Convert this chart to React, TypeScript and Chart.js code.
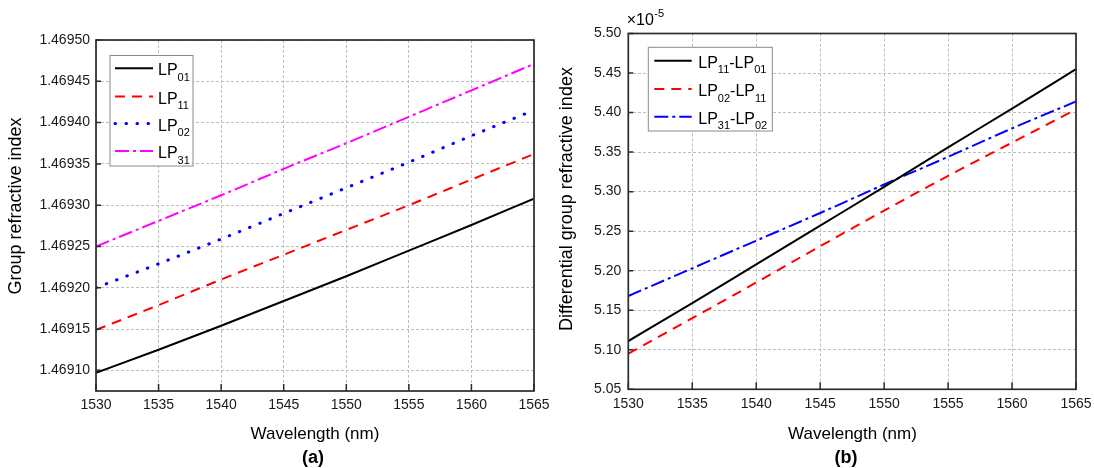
import React, { useEffect, useRef } from "react";
import { Chart, registerables } from "chart.js";

Chart.register(...registerables);

const FONT = "'Liberation Sans', Arial, Helvetica, sans-serif";

// ---------- data ----------
const WAVELENGTH_NM = [1530, 1535, 1540, 1545, 1550, 1555, 1560, 1565];
const X_TICKS = [1530, 1535, 1540, 1545, 1550, 1555, 1560, 1565];

// panel (a): group refractive index
const LP01 = [1.469097, 1.469125, 1.469154, 1.469184, 1.469214, 1.469245, 1.469276, 1.469308];
const LP11 = [1.469149, 1.469179, 1.46921, 1.46924, 1.46927, 1.4693, 1.469331, 1.469362];
const LP02 = [1.4692, 1.469229, 1.469259, 1.46929, 1.469321, 1.469352, 1.469384, 1.469415];
const LP31 = [1.46925, 1.469281, 1.469312, 1.469344, 1.469375, 1.469407, 1.469439, 1.469471];
const LEFT_Y_TICKS = [1.4691, 1.46915, 1.4692, 1.46925, 1.4693, 1.46935, 1.4694, 1.46945, 1.4695];
const LEFT_LABELS = ["LP01", "LP11", "LP02", "LP31"];

// panel (b): differential group refractive index (x1e-5)
const DIFF_LP11_LP01 = [5.111, 5.159, 5.208, 5.257, 5.306, 5.356, 5.405, 5.455];
const DIFF_LP02_LP11 = [5.095, 5.14, 5.185, 5.231, 5.276, 5.32, 5.362, 5.404];
const DIFF_LP31_LP02 = [5.168, 5.203, 5.238, 5.273, 5.309, 5.344, 5.38, 5.414];
const RIGHT_Y_TICKS = [5.05, 5.1, 5.15, 5.2, 5.25, 5.3, 5.35, 5.4, 5.45, 5.5];
const RIGHT_LABELS = ["LP11-LP01", "LP02-LP11", "LP31-LP02"];

// ---------- layout / style ----------
const W = 547;
const H = 468;

type Series = { label: string; values: number[]; color: string; dash: number[]; width: number; cap?: string };

type PanelSpec = {
  canvasW: number;
  offsetX: number;
  series: Series[];
  yMin: number;
  yMax: number;
  yTicks: number[];
  yDecimals: number;
  area: { left: number; top: number; right: number; bottom: number };
  yPad: number;
  yTitle: string;
  yTitlePos: [number, number];
  xTitle: string;
  xTitlePos: [number, number];
  panelLabel: string;
  panelPos: [number, number];
  legend: { box: [number, number, number, number]; rows: number[]; sample: [number, number]; textX: number };
  multiplier?: { x: number; y: number; base: string; exp: string };
};

const PANEL_A: PanelSpec = {
  canvasW: 562,
  offsetX: 0,
  series: [
    { label: LEFT_LABELS[0], values: LP01, color: "#000000", dash: [], width: 2 },
    { label: LEFT_LABELS[1], values: LP11, color: "#ff0000", dash: [10, 7], width: 2 },
    { label: LEFT_LABELS[2], values: LP02, color: "#0000ff", dash: [0.5, 10.5], width: 3, cap: "round" },
    { label: LEFT_LABELS[3], values: LP31, color: "#ff00ff", dash: [14, 4, 3, 4], width: 2 },
  ],
  yMin: 1.469075,
  yMax: 1.4695,
  yTicks: LEFT_Y_TICKS,
  yDecimals: 5,
  area: { left: 96, top: 40, right: 534, bottom: 391 },
  yPad: 6,
  yTitle: "Group refractive index",
  yTitlePos: [16, 206],
  xTitle: "Wavelength (nm)",
  xTitlePos: [315, 434],
  panelLabel: "(a)",
  panelPos: [313, 458],
  legend: { box: [110, 55.5, 193, 166], rows: [68.3, 96.5, 123.5, 151], sample: [115, 153], textX: 158 },
};

const PANEL_B: PanelSpec = {
  canvasW: W,
  offsetX: 547,
  series: [
    { label: RIGHT_LABELS[0], values: DIFF_LP11_LP01, color: "#000000", dash: [], width: 2 },
    { label: RIGHT_LABELS[1], values: DIFF_LP02_LP11, color: "#ff0000", dash: [10, 7], width: 2 },
    { label: RIGHT_LABELS[2], values: DIFF_LP31_LP02, color: "#0000ff", dash: [14, 4, 3, 4], width: 2 },
  ],
  yMin: 5.05,
  yMax: 5.5,
  yTicks: RIGHT_Y_TICKS,
  yDecimals: 2,
  area: { left: 81.3, top: 33.5, right: 529, bottom: 389.3 },
  yPad: 7,
  yTitle: "Differential group refractive index",
  yTitlePos: [20, 199],
  xTitle: "Wavelength (nm)",
  xTitlePos: [305.5, 434],
  panelLabel: "(b)",
  panelPos: [299, 458],
  legend: { box: [101.3, 47.3, 225.3, 131], rows: [60.7, 89, 116.7], sample: [107.3, 144.7], textX: 151.3 },
  multiplier: { x: 79.7, y: 25, base: "×10", exp: "-5" },
};

function drawRich(ctx: CanvasRenderingContext2D, label: string, x: number, y: number, size: number, subSize: number) {
  const parts = label.split(/(\d+)/);
  let cx = x;
  ctx.textAlign = "left";
  ctx.textBaseline = "alphabetic";
  parts.forEach((t, i) => {
    if (!t) return;
    const sub = i % 2 === 1;
    ctx.font = `${sub ? subSize : size}px ${FONT}`;
    ctx.fillText(t, cx, y + (sub ? 5.5 : 0));
    cx += ctx.measureText(t).width;
  });
}

function decorPlugin(p: PanelSpec) {
  return {
    id: "decor",
    afterDraw(chart: any) {
      const ctx: CanvasRenderingContext2D = chart.ctx;
      const { left, top, right, bottom } = chart.chartArea;
      const xs = chart.scales.x;
      const ys = chart.scales.y;
      ctx.save();

      // inside tick marks
      ctx.setLineDash([]);
      ctx.strokeStyle = "#2b2b2b";
      ctx.lineWidth = 1.5;
      ctx.beginPath();
      for (const v of X_TICKS) {
        const px = xs.getPixelForValue(v);
        ctx.moveTo(px, bottom);
        ctx.lineTo(px, bottom - 7);
      }
      for (const v of p.yTicks) {
        const py = ys.getPixelForValue(v);
        ctx.moveTo(left, py);
        ctx.lineTo(left + 5, py);
      }
      ctx.stroke();

      // frame
      ctx.lineWidth = 1.7;
      ctx.strokeRect(left, top, right - left, bottom - top);

      // legend
      const [bx0, by0, bx1, by1] = p.legend.box;
      ctx.fillStyle = "#ffffff";
      ctx.fillRect(bx0, by0, bx1 - bx0, by1 - by0);
      ctx.strokeStyle = "#8a8a8a";
      ctx.lineWidth = 1;
      ctx.strokeRect(bx0, by0, bx1 - bx0, by1 - by0);
      p.series.forEach((s, i) => {
        const ry = p.legend.rows[i];
        ctx.save();
        ctx.strokeStyle = s.color;
        ctx.lineWidth = s.width;
        ctx.lineCap = (s.cap as CanvasLineCap) || "butt";
        ctx.setLineDash(s.dash);
        ctx.beginPath();
        ctx.moveTo(p.legend.sample[0], ry);
        ctx.lineTo(p.legend.sample[1], ry);
        ctx.stroke();
        ctx.restore();
        ctx.fillStyle = "#000000";
        drawRich(ctx, s.label, p.legend.textX, ry + 7, 16, 11);
      });

      // axis titles
      ctx.fillStyle = "#000000";
      ctx.font = `17px ${FONT}`;
      ctx.textAlign = "center";
      ctx.textBaseline = "middle";
      ctx.fillText(p.xTitle, p.xTitlePos[0], p.xTitlePos[1]);

      ctx.save();
      ctx.translate(p.yTitlePos[0], p.yTitlePos[1]);
      ctx.rotate(-Math.PI / 2);
      ctx.font = `18px ${FONT}`;
      ctx.fillText(p.yTitle, 0, 0);
      ctx.restore();

      ctx.font = `bold 18px ${FONT}`;
      ctx.textAlign = "center";
      ctx.textBaseline = "middle";
      ctx.fillText(p.panelLabel, p.panelPos[0], p.panelPos[1]);

      if (p.multiplier) {
        const m = p.multiplier;
        ctx.textAlign = "left";
        ctx.textBaseline = "alphabetic";
        ctx.font = `16px ${FONT}`;
        ctx.fillText(m.base, m.x, m.y);
        const w = ctx.measureText(m.base).width;
        ctx.font = `11px ${FONT}`;
        ctx.fillText(m.exp, m.x + w + 0.5, m.y - 8);
      }

      ctx.restore();
    },
  };
}

function makeConfig(p: PanelSpec): any {
  const tickFont = { family: FONT, size: 14 };
  return {
    type: "line",
    data: {
      datasets: p.series.map((s) => ({
        label: s.label,
        data: s.values.map((v, i) => ({ x: WAVELENGTH_NM[i], y: v })),
        borderColor: s.color,
        backgroundColor: s.color,
        borderWidth: s.width,
        borderDash: s.dash,
        borderCapStyle: s.cap || "butt",
        pointRadius: 0,
        pointHoverRadius: 0,
        fill: false,
        cubicInterpolationMode: "monotone",
      })),
    },
    options: {
      responsive: false,
      animation: false,
      events: [],
      layout: { padding: { left: 0, top: p.area.top, right: p.canvasW - p.area.right, bottom: 0 } },
      plugins: { legend: { display: false }, tooltip: { enabled: false }, title: { display: false } },
      scales: {
        x: {
          type: "linear",
          min: X_TICKS[0],
          max: X_TICKS[X_TICKS.length - 1],
          afterBuildTicks: (scale: any) => {
            scale.ticks = X_TICKS.map((v) => ({ value: v }));
          },
          afterFit: (scale: any) => {
            scale.height = H - p.area.bottom;
            scale.paddingLeft = 0;
            scale.paddingRight = 0;
          },
          grid: { color: "#bdbdbd", lineWidth: 1, drawTicks: false },
          border: { display: false, dash: [3, 2] },
          ticks: {
            font: tickFont,
            color: "#1a1a1a",
            padding: 6,
            maxRotation: 0,
            autoSkip: false,
            callback: (v: any) => String(v),
          },
        },
        y: {
          type: "linear",
          min: p.yMin,
          max: p.yMax,
          afterBuildTicks: (scale: any) => {
            scale.ticks = p.yTicks.map((v) => ({ value: v }));
          },
          afterFit: (scale: any) => {
            scale.width = p.area.left;
            scale.paddingTop = 0;
            scale.paddingBottom = 0;
          },
          grid: { color: "#bdbdbd", lineWidth: 1, drawTicks: false },
          border: { display: false, dash: [3, 2] },
          ticks: {
            font: tickFont,
            color: "#1a1a1a",
            padding: p.yPad,
            autoSkip: false,
            callback: (v: any) => Number(v).toFixed(p.yDecimals),
          },
        },
      },
    },
    plugins: [decorPlugin(p)],
  };
}

function Panel({ spec }: { spec: PanelSpec }) {
  const ref = useRef<HTMLCanvasElement>(null);
  useEffect(() => {
    const chart = new Chart(ref.current as HTMLCanvasElement, makeConfig(spec));
    return () => chart.destroy();
  }, [spec]);
  return (
    <canvas
      ref={ref}
      width={spec.canvasW}
      height={H}
      style={{ position: "absolute", left: spec.offsetX, top: 0, display: "block", width: spec.canvasW, height: H }}
    />
  );
}

export default function App() {
  return (
    <div
      style={{
        position: "absolute",
        left: 0,
        top: 0,
        width: 1094,
        height: 468,
        background: "#ffffff",
      }}
    >
      <Panel spec={PANEL_A} />
      <Panel spec={PANEL_B} />
    </div>
  );
}
